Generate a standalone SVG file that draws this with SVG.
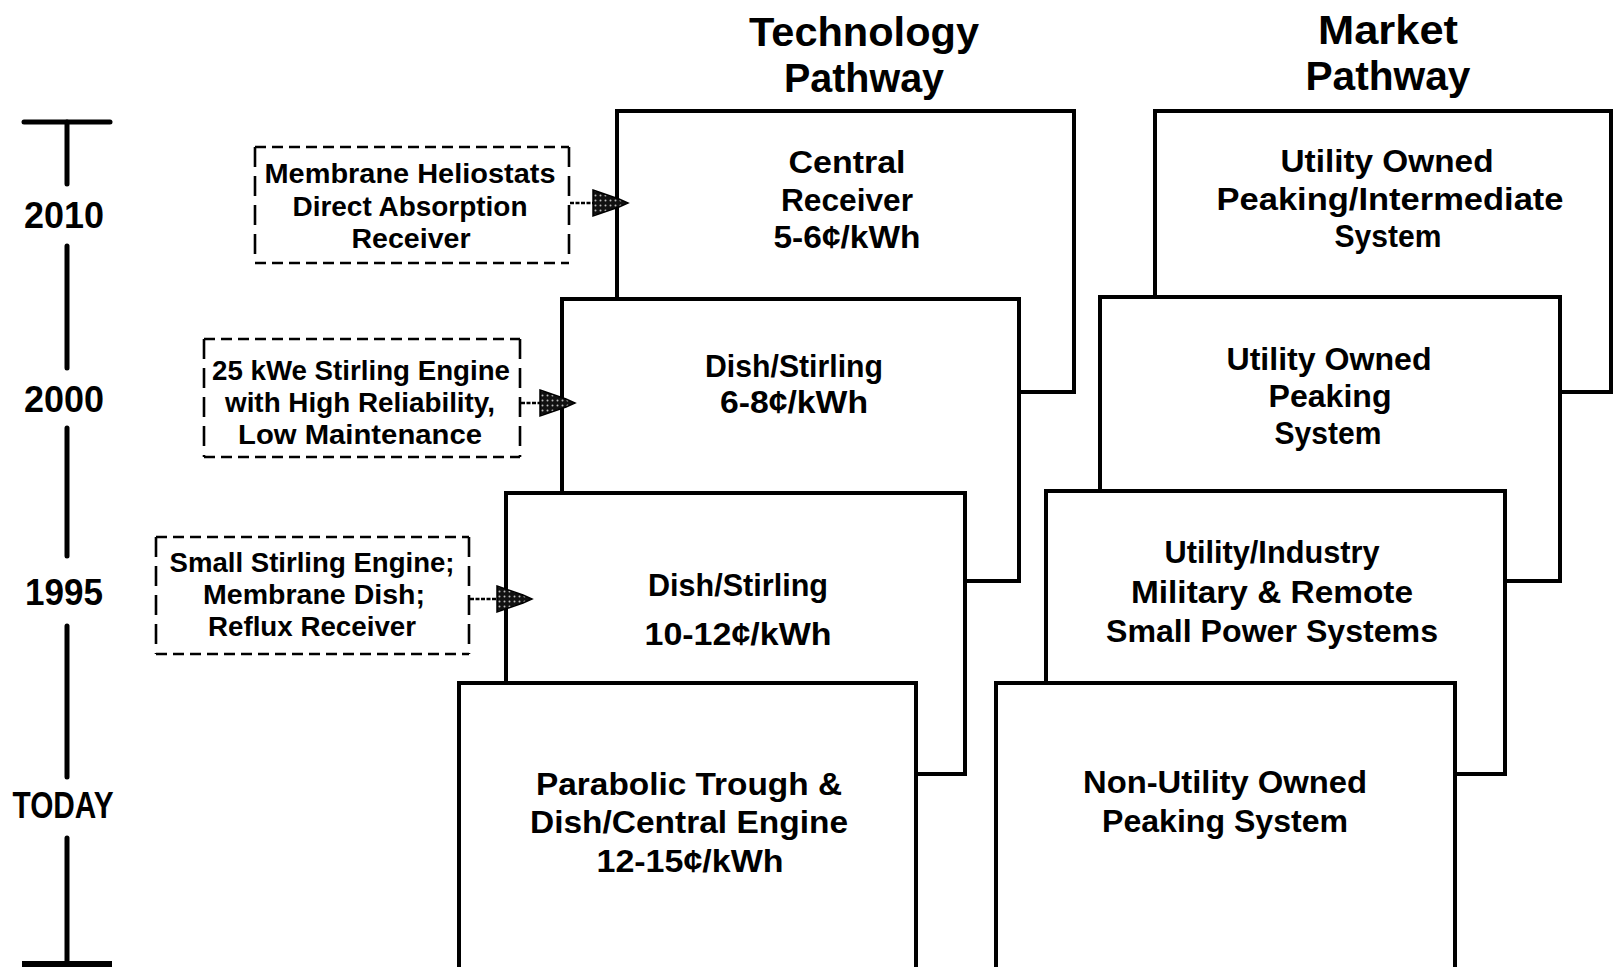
<svg xmlns="http://www.w3.org/2000/svg" width="1614" height="967" viewBox="0 0 1614 967">
<defs>
<style>
.bx{fill:#fff;stroke:#000;stroke-width:4}
.t{font-family:"Liberation Sans",Arial,sans-serif;font-weight:bold;fill:#000;text-anchor:middle}
.bt{font-size:32px}
.dt{font-size:27px}
.tt{font-size:40px}
.yl{font-size:36px}
.dh{fill:none;stroke:#000;stroke-width:2.6;stroke-dasharray:11 6}
.dv{fill:none;stroke:#000;stroke-width:2.6;stroke-dasharray:20 9}
.tl{stroke:#000;stroke-width:5;stroke-linecap:round}
.cl{stroke:#000;stroke-width:2.6;stroke-dasharray:4 1.5;fill:none}
.ah{fill:url(#stip);stroke:#000;stroke-width:1.5}
</style>
<pattern id="stip" width="5" height="5" patternUnits="userSpaceOnUse">
<rect width="5" height="5" fill="#111"/>
<circle cx="2.5" cy="2.5" r="1" fill="#bbb"/>
</pattern>
<path id="head" d="M0,-13 L26,-4 L35,0 L26,4 L0,13 Z"/>
</defs>
<rect width="1614" height="967" fill="#fff"/>

<g id="titles">
<text class="t tt" x="864" y="46" textLength="230" lengthAdjust="spacingAndGlyphs">Technology</text>
<text class="t tt" x="864" y="92" textLength="160" lengthAdjust="spacingAndGlyphs">Pathway</text>
<text class="t tt" x="1388" y="44" textLength="140" lengthAdjust="spacingAndGlyphs">Market</text>
<text class="t tt" x="1388" y="90" textLength="165" lengthAdjust="spacingAndGlyphs">Pathway</text>
</g>

<g id="timeline">
<line class="tl" x1="24" y1="122" x2="110" y2="122"/>
<line class="tl" x1="67" y1="122" x2="67" y2="184"/>
<line class="tl" x1="67" y1="246" x2="67" y2="368"/>
<line class="tl" x1="67" y1="428" x2="67" y2="556"/>
<line class="tl" x1="67" y1="626" x2="67" y2="777"/>
<line class="tl" x1="67" y1="838" x2="67" y2="964"/>
<line x1="22" y1="964" x2="112" y2="964" stroke="#000" stroke-width="6"/>
<text class="t yl" x="64" y="228" textLength="80" lengthAdjust="spacingAndGlyphs">2010</text>
<text class="t yl" x="64" y="412" textLength="80" lengthAdjust="spacingAndGlyphs">2000</text>
<text class="t yl" x="64" y="605" textLength="78" lengthAdjust="spacingAndGlyphs">1995</text>
<text class="t yl" x="63" y="818" textLength="101" lengthAdjust="spacingAndGlyphs">TODAY</text>
</g>

<g id="tech-central-receiver">
<rect class="bx" x="617" y="111" width="457" height="281"/>
<text class="t bt" x="847" y="173" textLength="117" lengthAdjust="spacingAndGlyphs">Central</text>
<text class="t bt" x="847" y="211" textLength="132" lengthAdjust="spacingAndGlyphs">Receiver</text>
<text class="t bt" x="847" y="248" textLength="147" lengthAdjust="spacingAndGlyphs">5-6¢/kWh</text>
</g>
<g id="tech-dish-stirling-2000">
<rect class="bx" x="562" y="299" width="457" height="282"/>
<text class="t bt" x="794" y="377" textLength="178" lengthAdjust="spacingAndGlyphs">Dish/Stirling</text>
<text class="t bt" x="794" y="413" textLength="148" lengthAdjust="spacingAndGlyphs">6-8¢/kWh</text>
</g>
<g id="tech-dish-stirling-1995">
<rect class="bx" x="506" y="493" width="459" height="281"/>
<text class="t bt" x="738" y="596" textLength="180" lengthAdjust="spacingAndGlyphs">Dish/Stirling</text>
<text class="t bt" x="738" y="645" textLength="187" lengthAdjust="spacingAndGlyphs">10-12¢/kWh</text>
</g>
<g id="tech-parabolic-trough">
<rect class="bx" x="459" y="683" width="457" height="290"/>
<text class="t bt" x="689" y="795" textLength="306" lengthAdjust="spacingAndGlyphs">Parabolic Trough &amp;</text>
<text class="t bt" x="689" y="833" textLength="318" lengthAdjust="spacingAndGlyphs">Dish/Central Engine</text>
<text class="t bt" x="690" y="872" textLength="187" lengthAdjust="spacingAndGlyphs">12-15¢/kWh</text>
</g>

<g id="market-peaking-intermediate">
<rect class="bx" x="1155" y="111" width="456" height="281"/>
<text class="t bt" x="1387" y="172" textLength="213" lengthAdjust="spacingAndGlyphs">Utility Owned</text>
<text class="t bt" x="1390" y="210" textLength="347" lengthAdjust="spacingAndGlyphs">Peaking/Intermediate</text>
<text class="t bt" x="1388" y="247" textLength="107" lengthAdjust="spacingAndGlyphs">System</text>
</g>
<g id="market-peaking">
<rect class="bx" x="1100" y="297" width="460" height="284"/>
<text class="t bt" x="1329" y="370" textLength="205" lengthAdjust="spacingAndGlyphs">Utility Owned</text>
<text class="t bt" x="1330" y="407" textLength="123" lengthAdjust="spacingAndGlyphs">Peaking</text>
<text class="t bt" x="1328" y="444" textLength="107" lengthAdjust="spacingAndGlyphs">System</text>
</g>
<g id="market-small-power">
<rect class="bx" x="1046" y="491" width="459" height="283"/>
<text class="t bt" x="1272" y="563" textLength="215" lengthAdjust="spacingAndGlyphs">Utility/Industry</text>
<text class="t bt" x="1272" y="603" textLength="282" lengthAdjust="spacingAndGlyphs">Military &amp; Remote</text>
<text class="t bt" x="1272" y="642" textLength="332" lengthAdjust="spacingAndGlyphs">Small Power Systems</text>
</g>
<g id="market-non-utility">
<rect class="bx" x="996" y="683" width="459" height="290"/>
<text class="t bt" x="1225" y="793" textLength="284" lengthAdjust="spacingAndGlyphs">Non-Utility Owned</text>
<text class="t bt" x="1225" y="832" textLength="246" lengthAdjust="spacingAndGlyphs">Peaking System</text>
</g>

<g id="input-heliostats">
<path class="dh" d="M255,147 H569 M255,263 H569"/>
<path class="dv" d="M255,147 V263 M569,147 V263"/>
<text class="t dt" x="410" y="183" textLength="291" lengthAdjust="spacingAndGlyphs">Membrane Heliostats</text>
<text class="t dt" x="410" y="216" textLength="235" lengthAdjust="spacingAndGlyphs">Direct Absorption</text>
<text class="t dt" x="411" y="248" textLength="119" lengthAdjust="spacingAndGlyphs">Receiver</text>
</g>
<g id="input-25kwe">
<path class="dh" d="M204,339 H520 M204,457 H520"/>
<path class="dv" d="M204,339 V457 M520,339 V457"/>
<text class="t dt" x="361" y="380" textLength="298" lengthAdjust="spacingAndGlyphs">25 kWe Stirling Engine</text>
<text class="t dt" x="360" y="412" textLength="270" lengthAdjust="spacingAndGlyphs">with High Reliability,</text>
<text class="t dt" x="360" y="444" textLength="244" lengthAdjust="spacingAndGlyphs">Low Maintenance</text>
</g>
<g id="input-small-stirling">
<path class="dh" d="M156,537 H469 M156,654 H469"/>
<path class="dv" d="M156,537 V654 M469,537 V654"/>
<text class="t dt" x="312" y="572" textLength="285" lengthAdjust="spacingAndGlyphs">Small Stirling Engine;</text>
<text class="t dt" x="314" y="604" textLength="222" lengthAdjust="spacingAndGlyphs">Membrane Dish;</text>
<text class="t dt" x="312" y="636" textLength="208" lengthAdjust="spacingAndGlyphs">Reflux Receiver</text>
</g>

<g id="connectors">
<line class="cl" x1="570" y1="203" x2="594" y2="203"/>
<use href="#head" class="ah" transform="translate(593,203)"/>
<line class="cl" x1="521" y1="403" x2="541" y2="403"/>
<use href="#head" class="ah" transform="translate(540,403)"/>
<line class="cl" x1="470" y1="599" x2="498" y2="599"/>
<use href="#head" class="ah" transform="translate(497,599)"/>
</g>
</svg>
